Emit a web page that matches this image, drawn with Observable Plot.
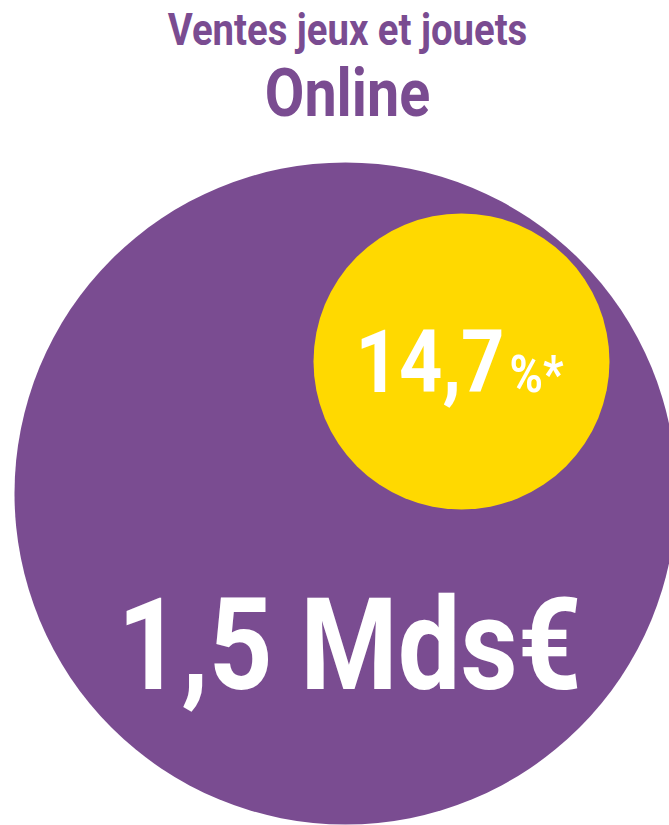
<!DOCTYPE html>
<html><head><meta charset="utf-8">
<script src="https://cdn.jsdelivr.net/npm/d3@7"></script>
<script src="https://cdn.jsdelivr.net/npm/@observablehq/plot@0.6"></script>
<style>html,body{margin:0;padding:0;background:#fff;overflow:hidden} svg{display:block}</style>
</head><body><div id="chart"></div>
<script>
// ---- data ----
const titleLines = ["Ventes jeux et jouets", "Online"];
const totalValue = [1.5];          // Mds€
const totalLabel = ["1,5 Mds€"];
const shareValue = [14.7];         // %
const shareLabel = ["14,7"];
const shareSuffix = ["%*"];

// ---- style / layout (not data) ----
const W = 669, H = 825;
const purple = "#7A4C91", yellow = "#FFD900";
const font = "Roboto, 'Noto Sans', sans-serif";
const condense = 0.87;

const big = totalValue.map((v, i) => ({value: v, label: totalLabel[i], cx: 345, cy: 493, r: 331, tx: 349, ty: 688}));
const small = shareValue.map((v, i) => ({value: v, label: shareLabel[i], suffix: shareSuffix[i], cx: 461, cy: 361, r: 148, tx: 504, ty: 391, sx: 509}));
const titles = titleLines.map((t, i) => ({text: t, x: 347, y: i === 0 ? 44 : 115}));

const chart = Plot.plot({
  width: W, height: H, margin: 0,
  x: {type: "identity", axis: null},
  y: {type: "identity", axis: null},
  r: {type: "identity"},
  marks: [
    Plot.dot(big, {x: "cx", y: "cy", r: "r", fill: purple, stroke: null}),
    Plot.dot(small, {x: "cx", y: "cy", r: "r", fill: yellow, stroke: null}),
    Plot.text(titles.slice(0,1), {x: "x", y: "y", text: "text", fill: purple, fontSize: 44, fontWeight: 700, fontFamily: font, lineAnchor: "bottom", textAnchor: "middle"}),
    Plot.text(titles.slice(1), {x: "x", y: "y", text: "text", fill: purple, fontSize: 66, fontWeight: 700, fontFamily: font, lineAnchor: "bottom", textAnchor: "middle"}),
    Plot.text(big, {x: "tx", y: "ty", text: "label", fill: "white", fontSize: 128, fontWeight: 700, fontFamily: font, lineAnchor: "bottom", textAnchor: "middle"}),
    Plot.text(small, {x: "tx", y: "ty", text: "label", fill: "white", fontSize: 87, fontWeight: 700, fontFamily: font, lineAnchor: "bottom", textAnchor: "end"}),
    Plot.text(small, {x: "sx", y: "ty", text: "suffix", fill: "white", fontSize: 52, fontWeight: 700, fontFamily: font, lineAnchor: "bottom", textAnchor: "start"})
  ]
});
document.getElementById("chart").appendChild(chart);

// condensed look: scale each text horizontally around its anchor
chart.querySelectorAll("text").forEach(t => {
  const bb = t.getBBox();
  const a = getComputedStyle(t).textAnchor || "start";
  const px = a === "middle" ? bb.x + bb.width / 2 : a === "end" ? bb.x + bb.width : bb.x;
  const prev = t.getAttribute("transform") || "";
  t.setAttribute("transform", `${prev} translate(${px},0) scale(${condense},1) translate(${-px},0)`);
});
</script>
</body></html>
